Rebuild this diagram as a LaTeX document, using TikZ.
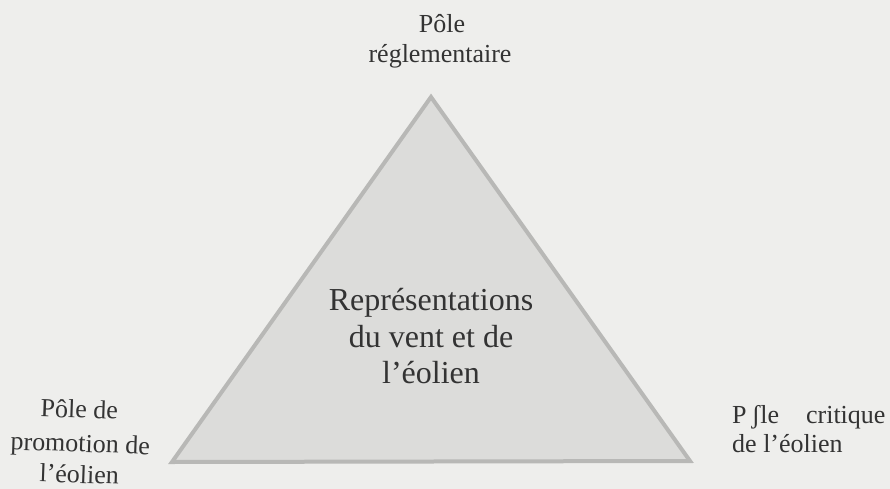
\documentclass[tikz,border=0pt]{standalone}
\usepackage{fontspec}
\setmainfont{Liberation Serif}
\definecolor{bgcol}{HTML}{EEEEEC}
\definecolor{trifill}{HTML}{DCDCDA}
\definecolor{triedge}{HTML}{B8B8B6}
\definecolor{txt}{HTML}{333333}
\begin{document}
\begin{tikzpicture}[x=1pt,y=-1pt,
  lbl/.style={anchor=base,inner sep=0pt,text=txt,font=\fontsize{26}{30}\selectfont},
  lbll/.style={anchor=base west,inner sep=0pt,text=txt,font=\fontsize{26}{30}\selectfont},
  big/.style={anchor=base,inner sep=0pt,text=txt,font=\fontsize{32}{36}\selectfont}]
\fill[bgcol] (0,0) rectangle (890,489);
\useasboundingbox (0,0) rectangle (890,489);
% triangle
\coordinate (A) at (431,97);
\coordinate (B) at (172,462);
\coordinate (C) at (690,461);
\draw[triedge,fill=trifill,line width=4pt,line join=miter] (A) -- (B) -- (C) -- cycle;
% centre text
\node[big] (c1) at (431,310) {Représentations};
\node[big] (c2) at (431,347) {du vent et de};
\node[big] (c3) at (431,383) {l’éolien};
% top pole
\node[lbl] (t1) at (442,33) {Pôle};
\node[lbl] (t2) at (440,63) {réglementaire};
% left pole
\node[lbl,rotate=-2] (l1) at (79,418) {Pôle de};
\node[lbl,rotate=-2] (l2) at (80,452) {promotion de};
\node[lbl,rotate=-2] (l3) at (79,483) {l’éolien};
% right pole
\node[lbll] (r1) at (732,423) {P\hspace{5pt}ʃle\hspace{27pt}critique};
\node[lbll] (r2) at (732,452) {de l’éolien};
\end{tikzpicture}
\end{document}
